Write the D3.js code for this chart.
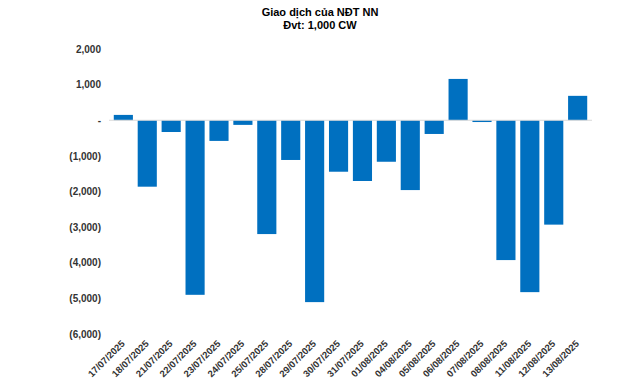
<!DOCTYPE html>
<html>
<head>
<meta charset="utf-8">
<style>
  body { margin: 0; background: #fff; }
  svg text { font-family: "Liberation Sans", Arial, sans-serif; font-weight: bold; }
</style>
</head>
<body>
<div id="chart"></div>
<script src="https://d3js.org/d3.v7.min.js"></script>
<script>
  // ngày giao dịch
  const dates = [
    "17/07/2025", "18/07/2025", "21/07/2025", "22/07/2025", "23/07/2025",
    "24/07/2025", "25/07/2025", "28/07/2025", "29/07/2025", "30/07/2025",
    "31/07/2025", "01/08/2025", "04/08/2025", "05/08/2025", "06/08/2025",
    "07/08/2025", "08/08/2025", "11/08/2025", "12/08/2025", "13/08/2025"
  ];
  // giá trị mua/bán ròng (nghìn CW)
  const netValues = [
    150, -1865, -330, -4900, -580,
    -130, -3195, -1115, -5105, -1445,
    -1705, -1165, -1960, -385, 1160,
    -50, -3925, -4825, -2930, 685
  ];
  const yTicks = [2000, 1000, 0, -1000, -2000, -3000, -4000, -5000, -6000];

  const width = 640, height = 386;
  const margin = { top: 49, right: 48, bottom: 52, left: 109 };

  const svg = d3.select("#chart").append("svg")
    .attr("width", width)
    .attr("height", height);

  svg.append("text")
    .attr("x", width / 2).attr("y", 16)
    .attr("text-anchor", "middle")
    .attr("font-size", 11)
    .attr("fill", "#000")
    .text("Giao dịch của NĐT NN");
  svg.append("text")
    .attr("x", width / 2).attr("y", 29)
    .attr("text-anchor", "middle")
    .attr("font-size", 11)
    .attr("fill", "#000")
    .text("Đvt: 1,000 CW");

  const x = d3.scaleBand()
    .domain(dates)
    .range([margin.left, width - margin.right])
    .padding(0.2);

  const y = d3.scaleLinear()
    .domain([-6000, 2000])
    .range([height - margin.bottom, margin.top]);

  const fmt = (v) => {
    if (v === 0) return "-";
    const s = d3.format(",")(Math.abs(v));
    return v < 0 ? "(" + s + ")" : s;
  };

  // trục y
  const yAxis = svg.append("g")
    .attr("transform", `translate(${margin.left - 8},0)`)
    .call(d3.axisLeft(y).tickValues(yTicks).tickFormat(fmt).tickSize(0).tickPadding(0));
  yAxis.select(".domain").remove();
  yAxis.selectAll("text")
    .attr("font-size", 10)
    .attr("fill", "#333");

  // cột
  svg.append("g")
    .selectAll("rect")
    .data(netValues)
    .join("rect")
    .attr("x", (d, i) => x(dates[i]))
    .attr("width", x.bandwidth())
    .attr("y", (d) => y(Math.max(0, d)))
    .attr("height", (d) => Math.abs(y(d) - y(0)))
    .attr("fill", "#0070C0");

  // đường 0
  svg.append("line")
    .attr("x1", margin.left).attr("x2", width - margin.right)
    .attr("y1", y(0)).attr("y2", y(0))
    .attr("stroke", "#d9d9d9")
    .attr("stroke-width", 1);

  // nhãn ngày
  const xAxis = svg.append("g")
    .attr("transform", `translate(0,${height - margin.bottom + 8})`)
    .call(d3.axisBottom(x).tickSize(0).tickPadding(0));
  xAxis.select(".domain").remove();
  xAxis.selectAll("text")
    .attr("font-size", 9.5)
    .attr("fill", "#333")
    .attr("text-anchor", "end")
    .attr("dy", "0.32em")
    .attr("transform", "rotate(-45)");
</script>
</body>
</html>
